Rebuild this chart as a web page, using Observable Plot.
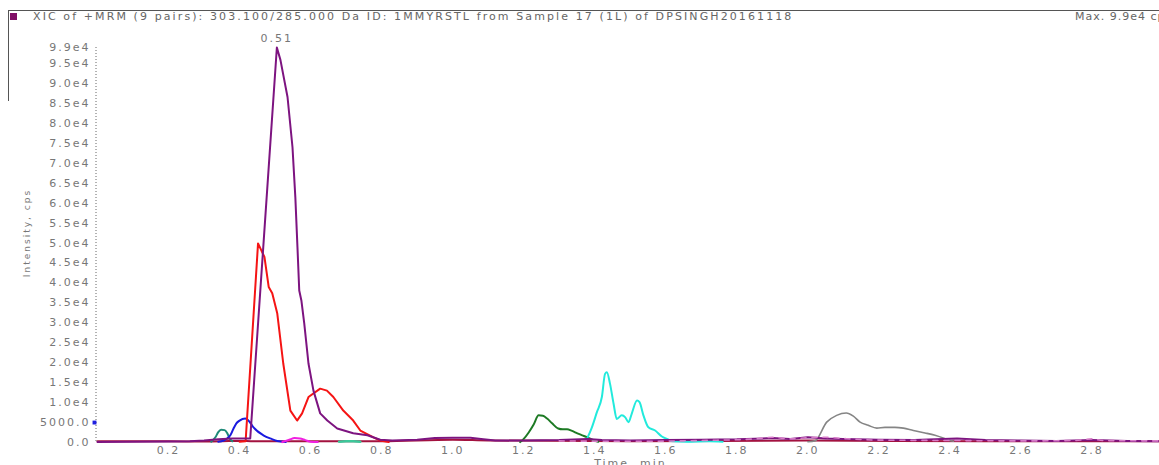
<!DOCTYPE html>
<html>
<head>
<meta charset="utf-8">
<script src="https://cdn.jsdelivr.net/npm/d3@7"></script>
<script src="https://cdn.jsdelivr.net/npm/@observablehq/plot@0.6"></script>
<style>
  html, body { margin: 0; padding: 0; background: #fff; width: 1159px; height: 465px; overflow: hidden; }
  #wrap { position: relative; width: 1159px; height: 465px; overflow: hidden; }
  #header { position: relative; height: 30px; }
  .topline { position: absolute; left: 8px; right: 0; top: 10px; border-top: 1px solid #555; }
  .leftline { position: absolute; left: 8px; top: 10px; height: 91px; border-left: 1px solid #555; }
  .sq { position: absolute; left: 10px; top: 13px; width: 7px; height: 7px; background: #800f66; }
  .title { position: absolute; left: 33px; top: 11px; font: 11px "DejaVu Sans"; letter-spacing: 2.1px; color: #666; white-space: nowrap; line-height: 12px; }
  .max { position: absolute; left: 1075px; top: 11px; font: 11px "DejaVu Sans"; letter-spacing: 1px; color: #666; white-space: nowrap; line-height: 12px; }
</style>
</head>
<body>
<div id="wrap">
  <div id="header">
    <div class="topline"></div>
    <div class="leftline"></div>
    <div class="sq"></div>
    <div class="title">XIC of +MRM (9 pairs): 303.100/285.000 Da ID: 1MMYRSTL from Sample 17 (1L) of DPSINGH20161118</div>
    <div class="max">Max. 9.9e4 cps.</div>
  </div>
  <div id="chart"></div>
</div>
<script>
// ---- data (time in min, intensity in cps) ----
const crimsonData = [[0,300],[0.1,300],[0.2,300],[0.3,250],[0.35,300],[0.4,400],[0.44,300],[0.8,300],[1.0,700],[1.1,500],[1.5,300],[2.0,500],[2.5,300],[2.99,300]];
const purpleData = [[0,150],[0.1,200],[0.2,250],[0.26,300],[0.3,500],[0.34,800],[0.38,1000],[0.43,1000],[0.505,99000],[0.515,95900],[0.535,86600],[0.549,74000],[0.557,61500],[0.563,48900],[0.568,38100],[0.574,35600],[0.582,29900],[0.594,19800],[0.608,13000],[0.627,7300],[0.647,5500],[0.675,3500],[0.72,2300],[0.76,1800],[0.796,700],[0.83,500],[0.9,700],[0.95,1100],[1.0,1200],[1.05,1200],[1.08,900],[1.12,500],[1.2,500],[1.3,600],[1.38,900],[1.42,600],[1.5,500],[1.6,600],[1.7,700],[1.8,800],[1.9,1100],[1.95,900],[2.0,1300],[2.05,1000],[2.1,900],[2.2,700],[2.3,600],[2.38,900],[2.42,1000],[2.5,600],[2.6,500],[2.7,400],[2.8,600],[2.9,400],[2.99,300]];
const redData = [[0.4,200],[0.417,300],[0.452,49900],[0.47,46500],[0.482,39000],[0.492,37400],[0.506,32400],[0.523,19800],[0.543,8000],[0.562,5500],[0.576,7300],[0.594,11400],[0.627,13500],[0.646,13000],[0.664,11400],[0.692,8000],[0.72,5500],[0.74,3000],[0.777,1300],[0.796,500],[0.82,100]];
const blueData = [[0.34,200],[0.355,500],[0.365,1000],[0.374,1800],[0.383,3500],[0.391,4800],[0.4,5500],[0.416,6000],[0.428,5200],[0.44,3700],[0.467,1800],[0.49,900],[0.506,400],[0.53,150]];
const tealData = [[0.32,200],[0.332,1300],[0.34,2600],[0.348,3200],[0.358,3100],[0.365,2400],[0.372,1000],[0.38,300]];
const magentaData = [[0.52,100],[0.54,700],[0.555,1100],[0.57,1000],[0.585,600],[0.6,200],[0.62,100]];
const springData = [[0.68,200],[0.7,300],[0.72,300],[0.74,200]];
const greenData = [[1.19,100],[1.2,900],[1.214,2500],[1.228,4500],[1.242,6800],[1.254,6700],[1.266,6000],[1.28,4800],[1.297,3500],[1.31,3300],[1.322,3300],[1.336,2900],[1.351,2300],[1.365,1800],[1.379,1300],[1.393,700],[1.41,200]];
const cyanData = [[1.378,900],[1.392,3800],[1.406,7600],[1.42,11400],[1.429,17200],[1.434,17600],[1.443,14700],[1.453,9700],[1.462,5900],[1.476,6800],[1.486,6300],[1.495,5100],[1.504,7200],[1.519,10500],[1.526,10100],[1.537,6800],[1.551,3800],[1.57,3000],[1.589,1500],[1.603,900],[1.62,300],[1.66,200],[1.72,300],[1.76,200]];
const grayData = [[2.0,200],[2.02,400],[2.053,5100],[2.081,6800],[2.108,7400],[2.128,6600],[2.147,5100],[2.17,4300],[2.194,3600],[2.217,3800],[2.245,3800],[2.269,3600],[2.297,3000],[2.33,2400],[2.358,1800],[2.381,1100],[2.394,600],[2.41,300]];
const pinkData = [[1.3,400],[1.5,300],[1.7,500],[1.85,900],[1.9,1300],[1.95,900],[2.0,1200],[2.05,1300],[2.1,1000],[2.2,600],[2.4,500],[2.6,400],[2.75,500],[2.8,900],[2.83,500],[2.99,400]];

const xTicks = [0.2,0.4,0.6,0.8,1.0,1.2,1.4,1.6,1.8,2.0,2.2,2.4,2.6,2.8];
const yTicks = [0,5000,10000,15000,20000,25000,30000,35000,40000,45000,50000,55000,60000,65000,70000,75000,80000,85000,90000,95000,99000];
const peakLabel = [{t: 0.505, v: 99000, text: "0.51"}];

// draw order and colours
const seriesList = [
  {name: "crimson", data: crimsonData, color: "#a3123f", w: 2, curve: "monotone-x"},
  {name: "teal", data: tealData, color: "#1f8a78", w: 2, curve: "monotone-x"},
  {name: "blue", data: blueData, color: "#1a1adf", w: 2, curve: "monotone-x"},
  {name: "magenta", data: magentaData, color: "#f020e0", w: 2, curve: "monotone-x"},
  {name: "spring", data: springData, color: "#3cc89a", w: 2.5, curve: "monotone-x"},
  {name: "green", data: greenData, color: "#1d7a24", w: 2, curve: "monotone-x"},
  {name: "cyan", data: cyanData, color: "#22eadc", w: 2, curve: "monotone-x"},
  {name: "gray", data: grayData, color: "#858585", w: 1.6, curve: "monotone-x"},
  {name: "red", data: redData, color: "#f51414", w: 2, curve: "linear"},
  {name: "purple", data: purpleData, color: "#7d1480", w: 2, curve: "linear"},
  {name: "pink", data: pinkData, color: "#d77cc8", w: 1.6, dash: "5,6", curve: "monotone-x"}
];

const fmtY = v => v === 0 ? "0.0" : v < 10000 ? v.toFixed(1) : (v / 10000).toFixed(1) + "e4";

const lineMarks = seriesList.map(s => Plot.line(
  s.data.map(([t, v]) => ({t, v})),
  {x: "t", y: "v", stroke: s.color, strokeWidth: s.w, curve: s.curve, strokeDasharray: s.dash, strokeLinejoin: "round"}
));

const chart = Plot.plot({
  width: 1159,
  height: 445,
  marginLeft: 97,
  marginRight: 0,
  marginTop: 17,
  marginBottom: 33,
  style: {fontFamily: "DejaVu Sans", fontSize: "11px", color: "#777", letterSpacing: "2px", background: "white"},
  x: {domain: [0, 2.99]},
  y: {domain: [0, 99000]},
  marks: [
    Plot.ruleX([0], {stroke: "#666", strokeDasharray: "1,2", dx: -1.5}),
    Plot.axisX({ticks: xTicks, tickSize: 0, tickPadding: 4, tickFormat: d => d.toFixed(1), label: null}),
    Plot.axisY({ticks: yTicks, tickSize: 0, tickPadding: 7, tickFormat: fmtY, label: null}),
    ...lineMarks,
    Plot.dot([{t: 0, v: 5000}], {x: "t", y: "v", symbol: "square", fill: "#2020e0", r: 2.2, dx: -3}),
    Plot.text(peakLabel, {x: "t", y: "v", text: "text", dy: -9, fill: "#777", fontSize: 11}),
    Plot.text(["Time, min"], {frameAnchor: "bottom", textAnchor: "middle", lineAnchor: "top", dy: 17, dx: 2, fill: "#777", fontSize: 11}),
    Plot.text(["Intensity, cps"], {frameAnchor: "left", textAnchor: "middle", rotate: -90, dx: -70, dy: -12, fill: "#777", fontSize: 9, letterSpacing: "0.6px"})
  ]
});
document.getElementById("chart").appendChild(chart);
</script>
</body>
</html>
